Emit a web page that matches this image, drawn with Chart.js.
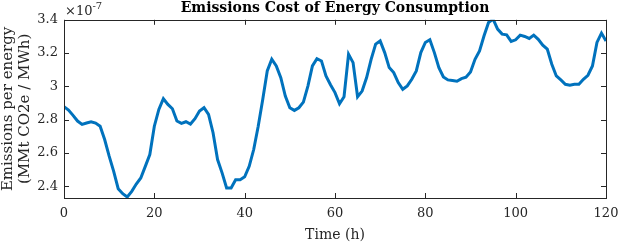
<!DOCTYPE html>
<html>
<head>
<meta charset="utf-8">
<script src="https://cdn.jsdelivr.net/npm/chart.js@4"></script>
<style>
  html, body { margin: 0; padding: 0; background: #fff; }
  #wrap { width: 620px; height: 244px; }
</style>
</head>
<body>
<div id="wrap"><canvas id="emissionsChart" width="620" height="244"></canvas></div>
<script>
// hourly emissions per energy, in units of 1e-7 MMt CO2e / MWh
const SCALE_EXP = -7;
const hours = [];
for (let h = 0; h <= 120; h++) hours.push(h);
const emissions = [
  2.878, 2.858, 2.826, 2.792, 2.772, 2.780, 2.788, 2.780, 2.761, 2.681,
  2.581, 2.490, 2.386, 2.356, 2.336, 2.370, 2.414, 2.450, 2.520, 2.591,
  2.761, 2.862, 2.926, 2.892, 2.866, 2.792, 2.778, 2.788, 2.774, 2.806,
  2.852, 2.872, 2.832, 2.722, 2.561, 2.481, 2.390, 2.390, 2.440, 2.440,
  2.457, 2.520, 2.621, 2.761, 2.922, 3.093, 3.163, 3.123, 3.053, 2.942,
  2.872, 2.856, 2.872, 2.906, 3.002, 3.123, 3.167, 3.153, 3.063, 3.010,
  2.963, 2.896, 2.938, 3.193, 3.143, 2.938, 2.972, 3.053, 3.163, 3.254,
  3.273, 3.203, 3.113, 3.083, 3.023, 2.983, 3.003, 3.043, 3.093, 3.203,
  3.264, 3.280, 3.203, 3.113, 3.057, 3.039, 3.035, 3.031, 3.047, 3.055,
  3.087, 3.163, 3.213, 3.304, 3.384, 3.404, 3.344, 3.314, 3.310, 3.270,
  3.280, 3.308, 3.300, 3.288, 3.308, 3.283, 3.248, 3.224, 3.133, 3.063,
  3.039, 3.013, 3.007, 3.013, 3.013, 3.043, 3.067, 3.123, 3.264, 3.320,
  3.273
];
const xTicks = [0, 20, 40, 60, 80, 100, 120];
const yTicks = [2.4, 2.6, 2.8, 3.0, 3.2, 3.4];

const axisColor = "#262626";
const serif = "'DejaVu Serif', 'Liberation Serif', serif";

// matlab style box with inward ticks and the exponent label
const matlabAxes = {
  id: "matlabAxes",
  afterDraw(chart) {
    const { ctx, chartArea: a, scales } = chart;
    ctx.save();
    ctx.strokeStyle = axisColor;
    ctx.lineWidth = 1;
    ctx.strokeRect(Math.round(a.left) + 0.5, Math.round(a.top) + 0.5,
      Math.round(a.right - a.left), Math.round(a.bottom - a.top));
    const len = 5;
    ctx.beginPath();
    xTicks.forEach((v) => {
      const x = Math.round(scales.x.getPixelForValue(v)) + 0.5;
      ctx.moveTo(x, a.bottom); ctx.lineTo(x, a.bottom - len);
      ctx.moveTo(x, a.top); ctx.lineTo(x, a.top + len);
    });
    yTicks.forEach((v) => {
      const y = Math.round(scales.y.getPixelForValue(v)) + 0.5;
      ctx.moveTo(a.left, y); ctx.lineTo(a.left + len, y);
      ctx.moveTo(a.right, y); ctx.lineTo(a.right - len, y);
    });
    ctx.stroke();

    ctx.fillStyle = axisColor;
    ctx.textBaseline = "alphabetic";
    ctx.font = "13px " + serif;
    ctx.fillText("\u00d710", a.left + 1, a.top - 5);
    const w = ctx.measureText("\u00d710").width;
    ctx.font = "10px " + serif;
    ctx.fillText(String(SCALE_EXP), a.left + 1 + w, a.top - 11);
    ctx.restore();
  }
};

new Chart(document.getElementById("emissionsChart"), {
  type: "line",
  data: {
    datasets: [{
      data: hours.map((h, i) => ({ x: h, y: emissions[i] })),
      borderColor: "#0072BD",
      borderWidth: 3,
      pointRadius: 0,
      tension: 0,
      fill: false
    }]
  },
  options: {
    responsive: false,
    animation: false,
    layout: { padding: { left: 0, right: 14, top: 0, bottom: 0 } },
    plugins: {
      legend: { display: false },
      tooltip: { enabled: false },
      title: {
        display: true,
        text: "Emissions Cost of Energy Consumption",
        fullSize: false,
        color: "#000",
        font: { family: serif, size: 14, weight: "bold" },
        padding: { top: 0, bottom: 3 }
      }
    },
    scales: {
      x: {
        type: "linear",
        min: 0,
        max: 120,
        afterBuildTicks: (s) => { s.ticks = xTicks.map((v) => ({ value: v })); },
        grid: { display: false, drawTicks: false },
        border: { display: false },
        ticks: { color: axisColor, font: { family: serif, size: 13 }, padding: 8, maxRotation: 0 },
        title: { display: true, text: "Time (h)", color: axisColor,
          font: { family: serif, size: 14 }, padding: { top: 1, bottom: 0 } },
        afterFit: (s) => { s.height = 46; s.paddingLeft = 0; s.paddingRight = 0; }
      },
      y: {
        type: "linear",
        min: 2.33,
        max: 3.4,
        afterBuildTicks: (s) => { s.ticks = yTicks.map((v) => ({ value: v })); },
        grid: { display: false, drawTicks: false },
        border: { display: false },
        ticks: { color: axisColor, font: { family: serif, size: 13 }, padding: 6,
          callback: (v) => String(parseFloat(v.toFixed(1))) },
        title: { display: true, text: ["Emissions per energy", "(MMt CO2e / MWh)"],
          color: axisColor, font: { family: serif, size: 15, lineHeight: 1.1 },
          padding: { top: 0, bottom: 0 } },
        afterFit: (s) => { s.width = 64; s.paddingTop = 0; s.paddingBottom = 0; }
      }
    }
  },
  plugins: [matlabAxes]
});
</script>
</body>
</html>
